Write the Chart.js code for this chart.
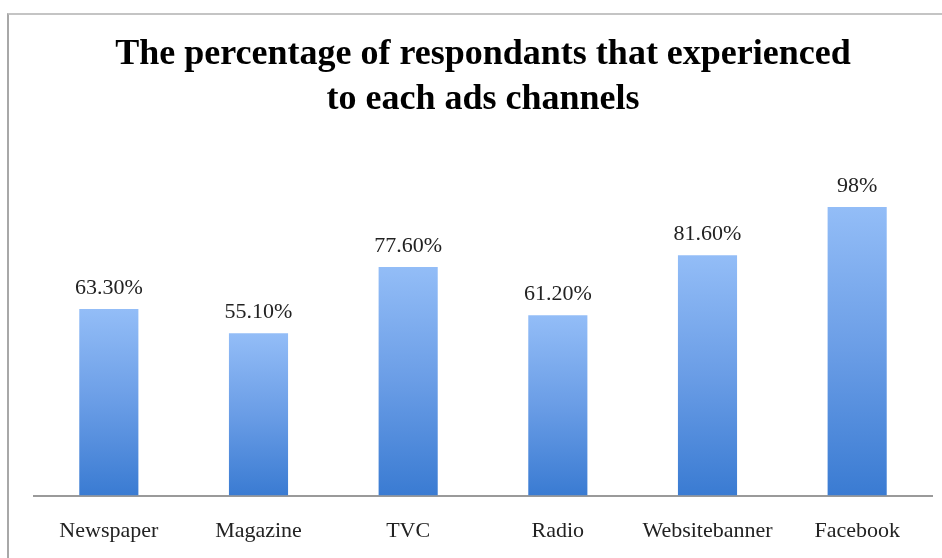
<!DOCTYPE html>
<html>
<head>
<meta charset="utf-8">
<script src="https://cdn.jsdelivr.net/npm/chart.js@4.4.1/dist/chart.umd.min.js"></script>
<style>
  html, body { margin: 0; padding: 0; background: #fff; }
  #wrap { position: relative; width: 942px; height: 558px; }
  #frame { position: absolute; left: 7px; top: 13px; width: 940px; height: 560px;
           border-left: 2px solid #a8a8a8; border-top: 2px solid #c4c4c4; pointer-events: none; }
</style>
</head>
<body>
<div id="wrap">
  <canvas id="c" width="942" height="558"></canvas>
  <div id="frame"></div>
</div>
<script>
const categories = ["Newspaper", "Magazine", "TVC", "Radio", "Websitebanner", "Facebook"];
const values = [63.3, 55.1, 77.6, 61.2, 81.6, 98];
const valueLabels = ["63.30%", "55.10%", "77.60%", "61.20%", "81.60%", "98%"];
const titleLines = ["The percentage of respondants that experienced", "to each ads channels"];

const serif = "'Liberation Serif', 'Times New Roman', serif";

function barGradient(ctx) {
  const chart = ctx.chart;
  const area = chart.chartArea;
  if (!area || ctx.type !== 'data') return '#5a93e0';
  const y = chart.scales.y;
  const top = y.getPixelForValue(values[ctx.dataIndex]);
  const base = y.getPixelForValue(0);
  const g = chart.ctx.createLinearGradient(0, top, 0, base);
  g.addColorStop(0, '#93bdf7');
  g.addColorStop(0.5, '#6a9de6');
  g.addColorStop(1, '#3a7bd2');
  return g;
}

const valueLabelPlugin = {
  id: 'valueLabels',
  afterDatasetsDraw(chart) {
    const c = chart.ctx;
    const meta = chart.getDatasetMeta(0);
    c.save();
    c.font = "22px " + serif;
    c.fillStyle = '#222';
    c.textAlign = 'center';
    c.textBaseline = 'middle';
    meta.data.forEach((bar, i) => {
      c.fillText(valueLabels[i], bar.x, bar.y - 21);
    });
    c.restore();
  }
};

new Chart(document.getElementById('c'), {
  type: 'bar',
  data: {
    labels: categories,
    datasets: [{
      data: values,
      backgroundColor: barGradient,
      borderWidth: 0,
      barPercentage: 0.79,
      categoryPercentage: 0.5
    }]
  },
  options: {
    responsive: false,
    animation: false,
    layout: { padding: { left: 34, right: 10, top: 0, bottom: -8 } },
    plugins: {
      legend: { display: false },
      tooltip: { enabled: false },
      title: {
        display: true,
        text: titleLines,
        color: '#000',
        font: { family: serif, size: 36, weight: 'bold', lineHeight: 1.25 },
        padding: { top: 32, bottom: 79 }
      }
    },
    scales: {
      x: {
        grid: { display: false, drawTicks: false },
        border: { display: true, color: '#9a9a9a', width: 2 },
        ticks: { color: '#222', font: { family: serif, size: 22 }, padding: 22 }
      },
      y: {
        display: false,
        min: 0,
        max: 100
      }
    }
  },
  plugins: [valueLabelPlugin]
});
</script>
</body>
</html>
